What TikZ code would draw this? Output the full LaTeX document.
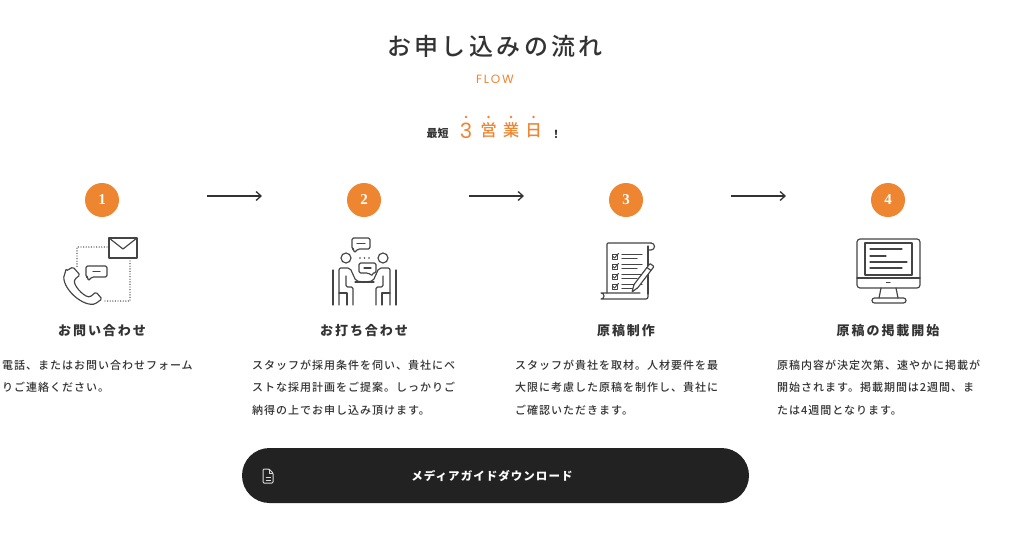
\documentclass[tikz,border=0pt]{standalone}
\usepackage{fontspec}
\setmainfont{Noto Sans CJK JP}
\IfFontExistsTF{Noto Sans CJK JP Medium}
  {\newfontfamily\medfont{Noto Sans CJK JP Medium}}
  {\newfontfamily\medfont{Noto Sans CJK JP}[FakeBold=0.6]}
\newfontfamily\flowfont{Poppins}
\newfontfamily\numfont{Liberation Serif}
\usetikzlibrary{arrows.meta}
\definecolor{flowor}{HTML}{EE8530}
\definecolor{ink}{HTML}{333333}
\definecolor{iconc}{HTML}{444444}
\definecolor{btnbg}{HTML}{222222}
\begin{document}
\begin{tikzpicture}[x=1pt,y=-1pt,
    stepnum/.style={circle,fill=flowor,text=white,minimum size=34pt,inner sep=0pt,
      font=\numfont\bfseries\fontsize{15}{15}\selectfont},
    heading/.style={anchor=base,inner sep=0pt,text=ink,
      font=\bfseries\fontsize{13}{13}\selectfont\addfontfeature{LetterSpace=15}},
    body/.style={anchor=base west,inner sep=0pt,align=left,text=ink,
      font=\medfont\fontsize{11}{22.5}\selectfont\addfontfeature{LetterSpace=9}},
    icon/.style={draw=iconc,line width=1.15pt,line cap=round,line join=round},
    dots/.style={icon,line width=1.4pt,dash pattern=on 0pt off 2.6pt}]
  \useasboundingbox[fill=white] (0,0) rectangle (1024,538);

  % title block
  \node[anchor=base,inner sep=0pt,text=ink,
    font=\medfont\fontsize{24}{24}\selectfont\addfontfeature{LetterSpace=14}] (ttl) at (495,55) {お申し込みの流れ};
  \node[anchor=base,inner sep=0pt,text=flowor,
    font=\flowfont\fontsize{12}{12}\selectfont\addfontfeature{LetterSpace=15}] (flw) at (495,83) {FLOW};
  \node[anchor=base,inner sep=0pt,text=ink,font=\bfseries\fontsize{11}{11}\selectfont] (sht) at (437.5,137.5) {最短};
  \node[anchor=base,inner sep=0pt,text=flowor,font=\flowfont\fontsize{21}{21}\selectfont] (d3) at (466,138) {3};
  \foreach \c [count=\i] in {営,業,日}
    \node[anchor=base,inner sep=0pt,text=flowor,font=\medfont\fontsize{16.5}{16.5}\selectfont] (bd\i) at (466+22.5*\i,136) {\c};
  \node[anchor=base,inner sep=0pt,text=ink,font=\bfseries\fontsize{11}{11}\selectfont] (exc) at (556,138) {！};
  \foreach \x in {466,488.5,511,533.5}
    \fill[flowor] (\x,117) circle (1.3pt);

  % steps
  \draw
    (102,200) node[stepnum] (s1){1}
    (364,200) node[stepnum] (s2){2}
    (626,200) node[stepnum] (s3){3}
    (888,200) node[stepnum] (s4){4};
  \foreach \i/\x in {1/207,2/469,3/731} {
    \coordinate (a\i) at (\x,196);
    \coordinate (b\i) at (\x+55,196);
  }
  \begin{scope}[-{Straight Barb[length=5pt,width=9pt]},line width=1.3pt,draw=ink]
    \draw (a1) to (b1);
    \draw (a2) to (b2);
    \draw (a3) to (b3);
  \end{scope}

  % icon 1: contact
  \draw[icon] (109,238) rectangle (137,258);
  \draw[icon] (109,238) -- (123,249) -- (137,238);
  \draw[dots] (107,247) -- (77,247) -- (77,267);
  \draw[dots] (130,261) -- (130,301) -- (103,301);
  \draw[icon,rounded corners=1.5pt] (88,277) -- (88,281) -- (92,277) -- (107,277) -- (107,266) -- (86,266) -- (86,277) -- cycle;
  \draw[icon] (93,271.5) -- (100,271.5);
  \draw[icon,rounded corners=1.5pt] (66,271) -- (73,267) -- (80,275) -- (75,279)
    .. controls (73,285) and (83,296) .. (90,297) -- (96,292) -- (102,299) -- (95,304)
    .. controls (80,306) and (58,284) .. (66,271) -- cycle;

  % icon 2: meeting
  \draw[icon,rounded corners=1.5pt] (354,249) -- (354,253) -- (358,249) -- (370,249) -- (370,238) -- (352,238) -- (352,249) -- cycle;
  \draw[icon] (357,243.5) -- (365,243.5);
  \foreach \x in {360,364.5,369}
    \fill[iconc] (\x,258) circle (0.8pt);
  \draw[icon,rounded corners=1.5pt] (372,273) -- (373,276) -- (368,273) -- (359,273) -- (359,263) -- (376,263) -- (376,273) -- cycle;
  \draw[icon] (364,268) -- (371,268);
  \draw[icon] (355,282) -- (374,282);
  \foreach \m in {0,1} {
    \begin{scope}[xshift=729*\m pt,xscale=1-2*\m]
      \draw[icon] (346,258) circle (5pt);
      \draw[icon,rounded corners=2pt] (339,305) -- (339,268) -- (350,268) -- (356,281) -- (364,282);
      \draw[icon,rounded corners=1.5pt] (346,276) -- (346,287) -- (353,287) -- (353,305);
      \draw[icon] (339,293) -- (347,293) -- (347,305);
      \draw[icon] (333,270) -- (333,305);
    \end{scope}
  }

  % icon 3: manuscript
  \draw[icon,rounded corners=1pt] (607,293) -- (607,243) -- (651,243);
  \draw[icon] (651,243) arc[start angle=90,end angle=-90,radius=3.5pt] -- (648,250);
  \draw[icon] (648,246) -- (648,294);
  \draw[icon] (648,294) .. controls (648,299) .. (644,299) -- (601,299)
    arc[start angle=90,end angle=270,radius=-3pt] -- (640,293);
  \foreach \y in {254,264,274,284} {
    \draw[icon,line width=0.9pt] (612,\y) rectangle (617,\y+5);
    \draw[icon,line width=0.9pt] (613,\y+2.5) -- (614.5,\y+4) -- (618.5,\y-0.5);
    \draw[icon] (622,\y+0.5) -- (642,\y+0.5);
    \draw[icon] (622,\y+4.5) -- (637,\y+4.5);
  }
  \draw[icon,fill=white,rounded corners=0.8pt] (632,292) -- (634,284.5) -- (650,263.5) -- (654,266.5) -- (638,287.5) -- cycle;
  \draw[icon] (647,267.5) -- (651,270.5);

  % icon 4: monitor
  \draw[icon,rounded corners=3pt] (857,239) rectangle (920,288);
  \draw[icon] (865,243) rectangle (912,275);
  \draw[icon] (857,278) -- (920,278);
  \draw[icon] (886.5,282.5) -- (890,282.5);
  \draw[icon] (881,288) -- (879,298);
  \draw[icon] (896,288) -- (898,298);
  \draw[icon,rounded corners=2.5pt] (872,298) rectangle (906,303);
  \draw[icon] (870,249) -- (902,249);
  \draw[icon] (870,256) -- (886,256);
  \draw[icon] (870,262) -- (907,262);
  \draw[icon] (870,268) -- (902,268);

  % headings and texts (base = last line)
  \node[heading] (h1) at (102,335) {お問い合わせ};
  \node[heading] (h2) at (364,335) {お打ち合わせ};
  \node[heading] (h3) at (626,335) {原稿制作};
  \node[heading] (h4) at (888,335) {原稿の掲載開始};
  \node[body] (t1) at (2,391.5) {電話、またはお問い合わせフォーム\\りご連絡ください。};
  \node[body] (t2) at (252,414) {スタッフが採用条件を伺い、貴社にベ\\ストな採用計画をご提案。しっかりご\\納得の上でお申し込み頂けます。};
  \node[body] (t3) at (515,414) {スタッフが貴社を取材。人材要件を最\\大限に考慮した原稿を制作し、貴社に\\ご確認いただきます。};
  \node[body] (t4) at (777,414) {原稿内容が決定次第、速やかに掲載が\\開始されます。掲載期間は2週間、ま\\たは4週間となります。};

  % download button
  \node[fill=btnbg,rounded corners=27.5pt,minimum width=507pt,minimum height=55pt,inner sep=0pt] (dl) at (495.5,475.5) {};
  \node[anchor=base,inner sep=0pt,text=white,
    font=\bfseries\fontsize{11.5}{11.5}\selectfont\addfontfeature{LetterSpace=9}] (dlt) at (492,480.5) {メディアガイドダウンロード};
  \draw[draw=white!85!black,line width=1pt,line join=round,rounded corners=1pt]
    (263,469) -- (269,469) -- (273,473) -- (273,483) -- (263,483) -- cycle;
  \draw[draw=white!85!black,line width=0.9pt] (269,469) -- (269,473) -- (273,473);
  \draw[draw=white!85!black,line width=0.9pt] (265.5,477) -- (270.5,477) (265.5,480) -- (270.5,480);
\end{tikzpicture}
\end{document}
